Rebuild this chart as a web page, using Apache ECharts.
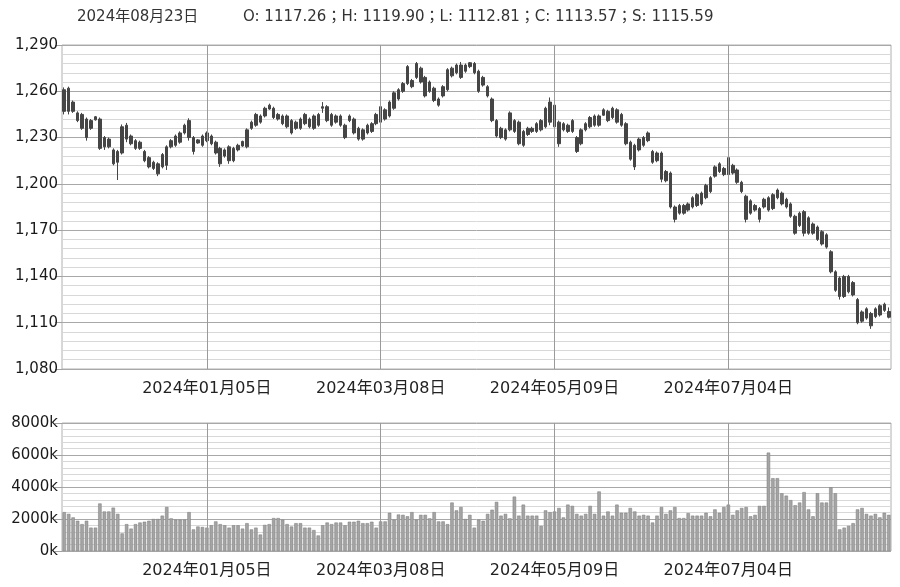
<!DOCTYPE html>
<html><head><meta charset="utf-8">
<script src="https://cdn.jsdelivr.net/npm/echarts@6/dist/echarts.min.js"></script>
<style>html,body{margin:0;padding:0;background:#fff}#c{width:900px;height:587px}</style>
</head><body><div id="c"></div>
<script>
// ---- data ----
const headerDate = '2024年08月23日';
const headerOHLC = 'O: 1117.26；H: 1119.90；L: 1112.81；C: 1113.57；S: 1115.59';

const dates = [
'2023-11-21','2023-11-22','2023-11-23','2023-11-24','2023-11-27','2023-11-28','2023-11-29','2023-11-30',
'2023-12-01','2023-12-04','2023-12-05','2023-12-06','2023-12-07','2023-12-08','2023-12-11','2023-12-12','2023-12-13','2023-12-14','2023-12-15',
'2023-12-18','2023-12-19','2023-12-20','2023-12-21','2023-12-22','2023-12-25','2023-12-26','2023-12-27','2023-12-28','2023-12-29',
'2024-01-02','2024-01-03','2024-01-04','2024-01-05','2024-01-08','2024-01-09','2024-01-10','2024-01-11','2024-01-12',
'2024-01-15','2024-01-16','2024-01-17','2024-01-18','2024-01-19','2024-01-22','2024-01-23','2024-01-24','2024-01-25','2024-01-26',
'2024-01-29','2024-01-30','2024-01-31','2024-02-01','2024-02-02','2024-02-05','2024-02-06','2024-02-07','2024-02-08',
'2024-02-19','2024-02-20','2024-02-21','2024-02-22','2024-02-23','2024-02-26','2024-02-27','2024-02-28','2024-02-29',
'2024-03-01','2024-03-04','2024-03-05','2024-03-06','2024-03-07','2024-03-08','2024-03-11','2024-03-12','2024-03-13','2024-03-14','2024-03-15',
'2024-03-18','2024-03-19','2024-03-20','2024-03-21','2024-03-22','2024-03-25','2024-03-26','2024-03-27','2024-03-28','2024-03-29',
'2024-04-01','2024-04-02','2024-04-03','2024-04-08','2024-04-09','2024-04-10','2024-04-11','2024-04-12',
'2024-04-15','2024-04-16','2024-04-17','2024-04-18','2024-04-19','2024-04-22','2024-04-23','2024-04-24','2024-04-25','2024-04-26',
'2024-04-29','2024-04-30','2024-05-06','2024-05-07','2024-05-08','2024-05-09','2024-05-10',
'2024-05-13','2024-05-14','2024-05-15','2024-05-16','2024-05-17','2024-05-20','2024-05-21','2024-05-22','2024-05-23','2024-05-24',
'2024-05-27','2024-05-28','2024-05-29','2024-05-30','2024-05-31','2024-06-03','2024-06-04','2024-06-05','2024-06-06','2024-06-07',
'2024-06-11','2024-06-12','2024-06-13','2024-06-14','2024-06-17','2024-06-18','2024-06-19','2024-06-20','2024-06-21',
'2024-06-24','2024-06-25','2024-06-26','2024-06-27','2024-06-28','2024-07-01','2024-07-02','2024-07-03','2024-07-04','2024-07-05',
'2024-07-08','2024-07-09','2024-07-10','2024-07-11','2024-07-12','2024-07-15','2024-07-16','2024-07-17','2024-07-18','2024-07-19',
'2024-07-22','2024-07-23','2024-07-24','2024-07-25','2024-07-26','2024-07-29','2024-07-30','2024-07-31',
'2024-08-01','2024-08-02','2024-08-05','2024-08-06','2024-08-07','2024-08-08','2024-08-09',
'2024-08-12','2024-08-13','2024-08-14','2024-08-15','2024-08-16','2024-08-19','2024-08-20','2024-08-21','2024-08-22','2024-08-23'
];

// [open, close, low, high]
const ohlc = [
[1261,1247,1245,1262.5],[1247,1262,1245,1263],[1253,1247,1246,1254],[1246,1241,1240,1247],[1245,1236,1235,1246],
[1242,1230,1228,1243],[1236,1241,1235,1242],[1241.5,1243.5,1241,1244],[1242,1223,1222,1243],[1224,1230,1222,1231],
[1229,1224,1223,1230],[1222,1213,1212,1223],[1221,1214,1202.5,1222],[1220,1237,1219,1238.5],[1238,1229,1227,1239.5],
[1231,1226,1225,1232],[1228,1223,1222,1229],[1223,1227,1222,1228],[1221,1215,1214,1222],[1217,1211,1210,1218],
[1214,1210,1209,1215],[1213,1206.5,1205,1214],[1211,1219,1210,1220],[1212,1224,1209,1225],[1224,1228,1223,1229],
[1225,1231,1224,1232],[1227,1233,1226,1234],[1233,1238,1232,1239],[1230,1241,1228,1242.5],[1230,1221,1219,1231],
[1226.5,1228.5,1226,1229],[1225,1231,1224,1232],[1228,1233,1227,1234],[1231,1226,1225,1232],[1227,1220,1219,1228],
[1223,1213,1211,1224],[1218,1222,1217,1223],[1224,1215,1213,1225],[1215,1223,1214,1224],
[1222,1225,1221,1226],[1224.5,1227.5,1224,1228],[1224,1235,1223,1236],[1236,1240,1235,1241],[1238,1245,1237,1246],
[1244,1240,1239,1245],[1244,1249,1243,1250],[1248.5,1251,1248,1252],[1249,1243,1242,1250],[1245,1242,1241,1246],
[1244,1239,1238,1245],[1237,1244,1236,1245],[1241,1233,1232,1242],[1236,1240,1235,1241],[1242,1236,1235,1243],
[1239,1245,1238,1246],[1242,1237,1236,1243],[1236,1244,1235,1245],[1245,1238,1237,1246],[1249,1250,1246,1253],
[1250,1241,1240,1251],[1245,1238,1237,1246],[1240,1244,1239,1245],[1244,1238,1237,1245],[1238,1230,1229,1239],
[1241,1244,1240,1245],[1242,1233,1232,1243],[1236,1229,1228,1237],[1229,1235,1228,1236],[1233,1238,1232,1239],
[1234,1239,1233,1240],[1239,1245,1238,1246],[1240,1250,1239,1252],[1248,1242,1241,1249],[1244,1253,1243,1254],
[1249,1259,1248,1260],[1255,1261,1254,1262],
[1260,1265,1259,1266],[1265,1276,1264,1277],[1267,1263,1262,1268],[1269,1278,1268,1279],[1275,1266,1265,1276],
[1269,1257,1256,1270],[1260,1266,1259,1267],[1262,1254,1253,1263],[1255,1251,1250,1256],[1257,1263,1256,1264],
[1261,1274,1260,1275],[1270,1275,1269,1276],[1272,1277,1271,1278],[1277,1269,1268,1279],[1273,1277,1272,1278],
[1276,1278.5,1275,1279],[1278,1272,1271,1279],[1273,1260,1259,1274],[1264,1269,1263,1270],[1263,1257,1256,1264],
[1255,1241,1240,1256],[1241,1231,1230,1242],[1236,1230,1229,1237],[1229,1235,1228,1236],[1235,1246,1234,1247],
[1241,1234,1233,1242],[1240,1226,1225,1241],[1225,1234,1224,1235],[1232,1236,1231,1237],[1236,1234,1233,1237],
[1234,1239,1233,1240],[1241,1235,1234,1242],[1237,1249,1236,1250],[1240,1253,1238,1256],[1251,1237,1235,1252],
[1240,1226,1224,1241],[1235,1239,1234,1240],
[1238,1234,1233,1239],[1234,1241,1233,1242],[1230,1221,1220,1231],[1226,1235,1225,1236],[1235,1239,1234,1240],
[1237,1243,1236,1244],[1244,1238,1237,1245],[1238,1244,1237,1245],[1244.5,1248,1244,1249],[1247,1241,1240,1248],
[1243,1249,1242,1250],[1248,1240,1239,1249],[1245,1238,1237,1246],[1239,1226,1225,1240],[1227,1216,1215,1228],
[1225,1211,1209,1226],[1222,1229,1221,1230],[1225,1230,1224,1231],[1228,1233,1227,1234],[1221,1214,1213,1222],
[1215,1220,1214,1221],[1220,1203,1201,1221],[1202,1208,1201,1209],[1207,1185,1184,1208],[1185,1177,1175,1186],
[1181,1186,1180,1187],[1186,1181,1180,1187],[1183,1187,1182,1188],[1185,1191,1184,1192],[1186,1193,1185,1194],
[1194,1187,1186,1195],[1191,1199,1190,1200],[1195,1204,1194,1205],[1205,1211,1204,1212],[1208,1213,1207,1214],
[1210,1206,1205,1211],[1206,1217,1202,1218],
[1212,1207,1206,1213],[1209,1201,1200,1210],[1201,1195,1194,1202],[1192,1177,1175,1193],[1181,1189,1180,1190],
[1186,1183,1182,1187],[1184,1177,1175,1185],[1185,1190,1184,1191],[1183,1191,1182,1192],[1184,1193,1183,1194],
[1191,1196,1190,1197],[1194,1187,1186,1195],[1190,1185,1184,1191],[1187,1179,1178,1188],[1179,1168,1167,1180],
[1173,1181,1172,1182],[1182,1168,1166,1183],[1168,1178,1167,1179],[1174,1168,1167,1175],[1172,1164,1163,1173],
[1169,1161,1160,1170],[1167,1159,1158,1168],[1156,1143,1142,1157],[1143,1131,1130,1144],[1139,1127,1125,1140],
[1127,1140,1126,1141],[1140,1130,1129,1141],[1136,1128,1127,1137],[1125,1110,1109,1126],[1111,1117,1110,1118],
[1113,1119,1112,1120],[1116,1108,1106,1117],[1114,1119,1113,1120],[1115,1121,1114,1122],[1118,1122,1117,1123],
[1117.26,1113.57,1112.81,1119.90]
];

// volume, thousands
const volumes = [
2430,2320,2100,1890,1680,1890,1460,1460,2970,2470,2470,2710,2320,1100,1680,1400,1680,1780,1830,1890,2000,2000,2210,2750,2040,1960,1960,1960,2430,1350,1530,1500,1460,
1610,1850,1680,1610,1460,1610,1610,1400,1740,1350,1460,1030,1630,1680,2060,2060,1960,1680,1530,1740,1740,1460,1460,1310,970,1610,1780,1680,1780,1780,1610,1830,1830,1890,1740,1740,1830,1460,
1850,1850,2390,1960,2280,2260,2170,2430,1960,2260,2260,2040,2430,1850,1850,1680,
3030,2540,2750,2000,2260,1460,1960,1890,2320,2580,3070,2210,2320,2040,3400,2210,2900,2210,2210,2210,1570,2540,2430,2470,
2690,2100,2900,2820,2320,2210,2320,2820,2320,3720,2210,2470,2210,2900,2390,2390,2690,2470,2210,2260,2210,1780,2210,2750,2320,2540,2750,2060,2060,2370,2210,2210,2210,2390,2170,2600,2390,2750,2900,
2260,2540,2690,2750,2170,2260,2820,2820,6150,4550,4550,3610,3460,3180,2860,3030,3680,2600,2170,3610,3030,3030,3980,3610,1350,1460,1570,1740,2600,2690,2320,2210,2320,2100,2390,2260
];

const labelDates = ['2024-01-05','2024-03-08','2024-05-09','2024-07-04'];
const priceAxis = [1080, 1290, 30];   // min, max, step
const volumeAxis = [0, 8000, 2000];   // min, max, step (k)

// ---- chart ----
const FONT = '"DejaVu Sans", "Noto Sans CJK JP", sans-serif';
const labelIdx = new Set(labelDates.map(d => dates.indexOf(d)));
const fmtDate = d => { const p = d.split('-'); return p[0] + '年' + p[1] + '月' + p[2] + '日'; };
const vLines = labelDates.map(d => ({ xAxis: d }));

function xAxisFor(gi) {
  return {
    type: 'category', gridIndex: gi, data: dates, boundaryGap: true,
    axisLine: { show: false }, axisTick: { show: false }, splitLine: { show: false },
    axisLabel: { interval: (i) => labelIdx.has(i), formatter: fmtDate, fontFamily: FONT, fontSize: 16, color: '#222', margin: 12 }
  };
}
function yAxisFor(gi, r, fmt) {
  return {
    type: 'value', gridIndex: gi, min: r[0], max: r[1], interval: r[2],
    axisLine: { show: false },
    axisTick: { show: true, length: 7, lineStyle: { color: '#a0a0a0' } },
    axisLabel: { formatter: fmt, fontFamily: FONT, fontSize: 15, color: '#1a1a1a', margin: 4 },
    splitLine: { lineStyle: { color: '#a8a8a8', width: 1 } },
    minorTick: { show: false, splitNumber: 5 },
    minorSplitLine: { show: true, lineStyle: { color: '#d8d8d8', width: 1 } }
  };
}
const markLineCfg = {
  silent: true, symbol: ['none', 'none'], label: { show: false },
  lineStyle: { color: '#9a9a9a', type: 'solid', width: 1 }, emphasis: { disabled: true },
  data: vLines, animation: false
};

const chart = echarts.init(document.getElementById('c'), null, { renderer: 'canvas' });
chart.setOption({
  animation: false,
  backgroundColor: '#ffffff',
  graphic: [
    { type: 'text', left: 77, top: 10, style: { text: headerDate, fontFamily: FONT, fontSize: 15, fill: '#333' } },
    { type: 'text', left: 243, top: 10, style: { text: headerOHLC, fontFamily: FONT, fontSize: 15, fill: '#333' } }
  ],
  grid: [
    { left: 62, right: 9, top: 45, height: 324, show: true, borderColor: '#b0b0b0', borderWidth: 1, backgroundColor: 'transparent' },
    { left: 62, right: 9, top: 423, height: 128, show: true, borderColor: '#b0b0b0', borderWidth: 1, backgroundColor: 'transparent' }
  ],
  xAxis: [xAxisFor(0), xAxisFor(1)],
  yAxis: [
    yAxisFor(0, priceAxis, v => v.toLocaleString('en-US')),
    yAxisFor(1, volumeAxis, v => v + 'k')
  ],
  series: [
    {
      type: 'candlestick', xAxisIndex: 0, yAxisIndex: 0, data: ohlc, barWidth: 3,
      itemStyle: { color: '#454545', color0: '#454545', borderColor: '#454545', borderColor0: '#454545', borderWidth: 1 },
      markLine: markLineCfg
    },
    {
      type: 'bar', xAxisIndex: 1, yAxisIndex: 1, data: volumes, barWidth: 3.4,
      itemStyle: { color: '#a4a4a4', borderColor: '#7a7a7a', borderWidth: 0.5 },
      markLine: markLineCfg
    }
  ]
});
</script></body></html>
